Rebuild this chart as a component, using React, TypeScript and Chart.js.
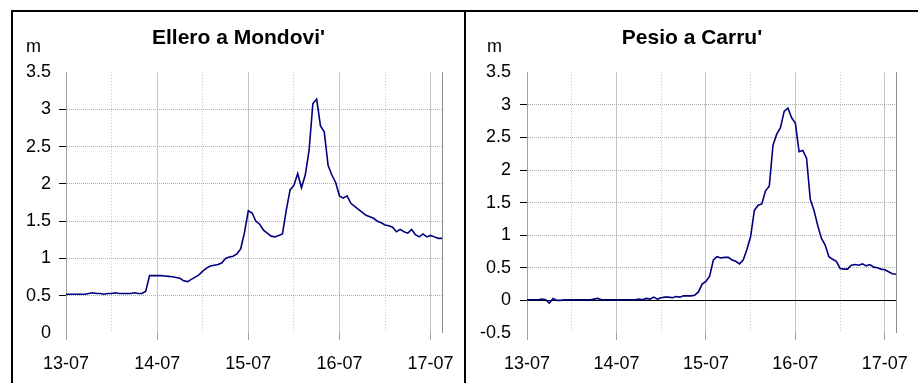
import React, { useEffect, useRef } from "react";
import { Chart, registerables } from "chart.js";

Chart.register(...registerables);

// Hydrometric levels (m), hourly readings from 13-07 00:00 to 17-07 03:00
const dayLabels = ["13-07", "14-07", "15-07", "16-07", "17-07"];
const lastHour = 99;
const xTicks = [0, 12, 24, 36, 48, 60, 72, 84, 96, 99];

const elleroLevels = [
  0.52, 0.52, 0.52, 0.52, 0.52, 0.52, 0.53, 0.54, 0.53, 0.53,
  0.52, 0.53, 0.53, 0.54, 0.53, 0.53, 0.53, 0.53, 0.54, 0.53,
  0.53, 0.56, 0.77, 0.77, 0.77, 0.77, 0.765, 0.76, 0.755, 0.745,
  0.735, 0.7, 0.69, 0.72, 0.75, 0.78, 0.83, 0.87, 0.9, 0.91,
  0.92, 0.94, 1.0, 1.02, 1.03, 1.06, 1.13, 1.35, 1.64, 1.61,
  1.5, 1.46, 1.38, 1.34, 1.3, 1.29, 1.31, 1.33, 1.65, 1.92,
  1.98, 2.14, 1.95, 2.12, 2.45, 3.08, 3.14, 2.78, 2.7, 2.25,
  2.12, 2.02, 1.84, 1.81, 1.84, 1.74, 1.7, 1.66, 1.62, 1.58,
  1.56, 1.54, 1.5, 1.48, 1.45, 1.44, 1.42, 1.36, 1.39, 1.36,
  1.34, 1.39, 1.32, 1.29, 1.33, 1.29, 1.31, 1.29, 1.27, 1.27,
];

const pesioLevels = [
  0.01, 0.01, 0.01, 0.01, 0.02, 0.01, -0.04, 0.03, 0.0, 0.0,
  0.01, 0.01, 0.01, 0.01, 0.01, 0.01, 0.01, 0.01, 0.02, 0.03,
  0.01, 0.01, 0.01, 0.01, 0.01, 0.01, 0.01, 0.01, 0.01, 0.01,
  0.02, 0.01, 0.03, 0.02, 0.05, 0.02, 0.04, 0.05, 0.05, 0.04,
  0.06, 0.05, 0.07, 0.07, 0.07, 0.08, 0.13, 0.25, 0.29, 0.37,
  0.62, 0.67, 0.65, 0.66, 0.66, 0.62, 0.6, 0.56, 0.62, 0.78,
  0.98, 1.38, 1.46, 1.48, 1.68, 1.75, 2.38, 2.55, 2.65, 2.9,
  2.95, 2.8, 2.72, 2.28, 2.3, 2.18, 1.55, 1.38, 1.15, 0.95,
  0.85, 0.67, 0.63, 0.6, 0.49, 0.48, 0.48, 0.54, 0.55, 0.54,
  0.56, 0.53, 0.55, 0.51, 0.5, 0.48, 0.47, 0.44, 0.41, 0.4,
];

const elleroYTicks = [0, 0.5, 1, 1.5, 2, 2.5, 3, 3.5];
const pesioYTicks = [-0.5, 0, 0.5, 1, 1.5, 2, 2.5, 3, 3.5];

const FONT = "'Liberation Sans', Arial, sans-serif";
const CLEAR = "rgba(0,0,0,0)";

type PanelProps = {
  title: string;
  levels: number[];
  yTicks: number[];
  yWidth: number;
  yLabelPad: number;
  width: number;
};

function unitLabelPlugin(text: string) {
  return {
    id: "unitLabel",
    afterDraw(chart: any) {
      const { ctx, chartArea } = chart;
      ctx.save();
      ctx.font = `18px ${FONT}`;
      ctx.fillStyle = "#000";
      ctx.textAlign = "center";
      ctx.textBaseline = "alphabetic";
      ctx.fillText(text, chartArea.left - 32.5, chartArea.top - 20);
      ctx.restore();
    },
  };
}

function Panel({ title, levels, yTicks, yWidth, yLabelPad, width }: PanelProps) {
  const ref = useRef<HTMLCanvasElement | null>(null);

  useEffect(() => {
    if (!ref.current) return;
    const yMin = yTicks[0];
    const yMax = yTicks[yTicks.length - 1];
    const points = levels.map((v, i) => ({ x: i, y: v }));

    const chart = new Chart(ref.current, {
      type: "line",
      data: {
        datasets: [
          {
            data: points,
            borderColor: "#000080",
            borderWidth: 1.6,
            pointRadius: 0,
            tension: 0,
            fill: false,
            yAxisID: "y",
          },
        ],
      },
      plugins: [unitLabelPlugin("m")],
      options: {
        animation: false,
        responsive: false,
        events: [],
        layout: { padding: 0 },
        plugins: {
          legend: { display: false },
          tooltip: { enabled: false },
          title: {
            display: true,
            text: title,
            color: "#000",
            font: { family: FONT, size: 21, weight: "bold" },
            padding: { top: 26, bottom: 21 },
          },
        },
        scales: {
          x: {
            type: "linear",
            min: 0,
            max: lastHour,
            afterBuildTicks: (s: any) => {
              s.ticks = xTicks.map((v) => ({ value: v }));
            },
            afterFit: (s: any) => {
              s.height = 50;
            },
            border: {
              display: false,
              dash: (ctx: any) =>
                ctx.tick && ctx.tick.value % 24 !== 0 && ctx.tick.value !== lastHour ? [1, 2] : [],
            },
            grid: {
              lineWidth: 1,
              tickLength: 7,
              color: (ctx: any) => {
                const v = ctx.tick ? ctx.tick.value : -1;
                if (v === lastHour) return "#8c8c8c";
                if (v === 0) return "#a0a0a0";
                return "#c4c4c4";
              },
              tickColor: (ctx: any) => {
                const v = ctx.tick ? ctx.tick.value : -1;
                if (v === lastHour) return CLEAR;
                return v % 24 === 0 ? "#a0a0a0" : CLEAR;
              },
            },
            ticks: {
              autoSkip: false,
              maxRotation: 0,
              minRotation: 0,
              padding: 13,
              color: "#000",
              font: { family: FONT, size: 18 },
              callback: (v: any) => (v % 24 === 0 && v !== lastHour ? dayLabels[v / 24] : ""),
            },
          },
          y: {
            position: "left",
            min: yMin,
            max: yMax,
            afterBuildTicks: (s: any) => {
              s.ticks = yTicks.map((v) => ({ value: v }));
            },
            afterFit: (s: any) => {
              s.width = yWidth;
            },
            border: {
              display: true,
              color: "#a0a0a0",
              width: 1,
              dash: (ctx: any) => {
                if (!ctx.tick) return [];
                return ctx.tick.value === 0 && yMin < 0 ? [] : [1, 1];
              },
            },
            grid: {
              lineWidth: 1,
              tickLength: 7,
              color: (ctx: any) => {
                const v = ctx.tick ? ctx.tick.value : NaN;
                if (v === yMin || v === yMax) return CLEAR;
                if (v === 0) return "#000";
                return "#b0b0b0";
              },
              tickColor: (ctx: any) => {
                const v = ctx.tick ? ctx.tick.value : NaN;
                if (v === yMin || v === yMax) return CLEAR;
                return "#000";
              },
            },
            ticks: {
              padding: yLabelPad,
              color: "#000",
              font: { family: FONT, size: 18 },
              callback: (v: any) => String(v),
            },
          },
          // empty right-hand margin axis, keeps the plot clear of the panel edge
          margin: {
            type: "linear",
            position: "right",
            display: true,
            afterFit: (s: any) => {
              s.width = 22;
            },
            grid: { display: false, drawTicks: false },
            border: { display: false },
            ticks: { display: false },
          },
        },
      } as any,
    });
    return () => chart.destroy();
  }, [title, levels, yTicks, yWidth, yLabelPad]);

  return <canvas ref={ref} width={width} height={383} style={{ display: "block" }} />;
}

export default function App() {
  return (
    <div
      style={{
        position: "absolute",
        left: 0,
        top: 0,
        width: 918,
        height: 383,
        background: "#fff",
        overflow: "hidden",
      }}
    >
      <div style={{ position: "absolute", left: 13, top: 0 }}>
        <Panel
          title="Ellero a Mondovi'"
          levels={elleroLevels}
          yTicks={elleroYTicks}
          yWidth={53}
          yLabelPad={8}
          width={451}
        />
      </div>
      <div style={{ position: "absolute", left: 466, top: 0 }}>
        <Panel
          title="Pesio a Carru'"
          levels={pesioLevels}
          yTicks={pesioYTicks}
          yWidth={61}
          yLabelPad={9}
          width={452}
        />
      </div>
      {/* outer frame and panel divider */}
      <div
        style={{
          position: "absolute",
          left: 11,
          top: 10,
          width: 907,
          height: 373,
          borderTop: "2px solid #000",
          borderLeft: "2px solid #000",
          boxSizing: "border-box",
          pointerEvents: "none",
        }}
      />
      <div
        style={{
          position: "absolute",
          left: 464,
          top: 10,
          width: 2,
          height: 373,
          background: "#000",
          pointerEvents: "none",
        }}
      />
    </div>
  );
}
